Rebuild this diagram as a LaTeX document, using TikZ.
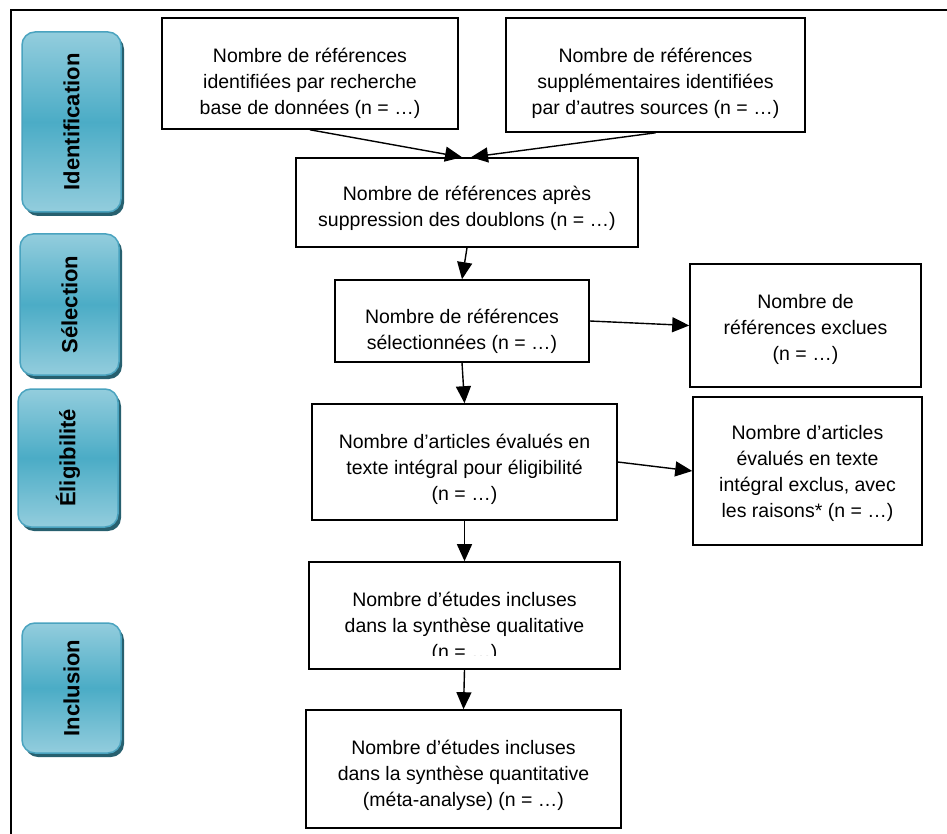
\documentclass[tikz,border=0pt]{standalone}
\usepackage{fontspec}
\setmainfont{Liberation Sans}
\usetikzlibrary{positioning,shadows,arrows.meta}

\definecolor{phaselight}{HTML}{93CDDD}
\definecolor{phasemid}{HTML}{4BACC6}
\definecolor{phaseline}{HTML}{4AA3BF}
\definecolor{phaseshadow}{HTML}{27606F}

\tikzset{
  phase/.style={rounded corners=13pt, draw=phaseline, line width=1.5pt,
    top color=phaselight, bottom color=phaselight, middle color=phasemid,
    drop shadow={shadow xshift=3pt, shadow yshift=-4pt, fill=phaseshadow, opacity=1},
    minimum width=99pt, inner sep=0pt, font=\fontsize{22}{24}\selectfont\bfseries},
  box/.style={draw, line width=1.6pt, inner sep=0pt},
  boxtext/.style={align=center, inner sep=0pt,
    font=\fontsize{19.5}{26}\selectfont, execute at begin node=\strut},
  flow/.style={-{Triangle[length=17pt,width=15pt]}, line width=1.4pt},
}

\begin{document}
\begin{tikzpicture}[x=1pt,y=-1pt]
    \useasboundingbox (0,0) rectangle (947,834);
    % outer frame (only left and top edges show)
    \draw[line width=1.8pt] (11,834) -- (11,10) -- (947,10);

    % phases
    \node[phase, minimum height=180pt] (ident) at (71.5,122) {\rotatebox{90}{Identification}};
    \node[phase, minimum height=141pt] (selec) at (69.5,304.5) {\rotatebox{90}{Sélection}};
    \node[phase, minimum width=100pt, minimum height=138pt] (eligi) at (68,458) {\rotatebox{90}{Éligibilité}};
    \node[phase, minimum height=130pt] (inclu) at (71.5,688) {\rotatebox{90}{Inclusion}};

    % boxes
    \node[box, minimum width=296pt, minimum height=111pt] (db) at (310,73.5) {};
    \node[box, minimum width=299pt, minimum height=114pt] (other) at (655.5,75) {};
    \node[box, minimum width=342pt, minimum height=89pt] (dedup) at (467,202.5) {};
    \node[box, minimum width=254pt, minimum height=82pt] (screen) at (462,321) {};
    \node[box, minimum width=231pt, minimum height=123pt] (screenex) at (805.5,325.5) {};
    \node[box, minimum width=305pt, minimum height=116pt] (full) at (464.5,462) {};
    \node[box, minimum width=229pt, minimum height=148pt] (fullex) at (807.5,471) {};
    \node[box, minimum width=311pt, minimum height=107pt] (qual) at (464.5,615.5) {};
    \node[box, minimum width=315pt, minimum height=118pt] (quant) at (463.5,769) {};

    % texts
    \node[boxtext, below=31pt of db.north] (dbT) {Nombre de références\\identifiées par recherche\\base de données (n = …)};
    \node[boxtext, below=31pt of other.north] (otherT) {Nombre de références\\supplémentaires identifiées\\par d’autres sources (n = …)};
    \node[boxtext, below=29pt of dedup.north] (dedupT) {Nombre de références après\\suppression des doublons (n = …)};
    \node[boxtext, below=30pt of screen.north] (screenT) {Nombre de références\\sélectionnées (n = …)};
    \node[boxtext, below=31pt of screenex.north] (screenexT) {Nombre de\\références exclues\\(n = …)};
    \node[boxtext, below=31pt of full.north] (fullT) {Nombre d’articles évalués en\\texte intégral pour éligibilité\\(n = …)};
    \node[boxtext, below=29pt of fullex.north] (fullexT) {Nombre d’articles\\évalués en texte\\intégral exclus, avec\\les raisons* (n = …)};
    \begin{scope}
        \clip (309,562) rectangle (620,655);
        \node[boxtext, below=31pt of qual.north] (qualT) {Nombre d’études incluses\\dans la synthèse qualitative\\(n = …)};
    \end{scope}
    \node[boxtext, below=31pt of quant.north] (quantT) {Nombre d’études incluses\\dans la synthèse quantitative\\(méta-analyse) (n = …)};

    % arrows
    \draw[flow] (db.south) -- ([xshift=-5pt]dedup.north);
    \draw[flow] (other.south) -- ([xshift=4pt]dedup.north);
    \draw[flow] (dedup.south) -- (screen.north);
    \draw[flow] (screen.east) -- (screenex.west);
    \draw[flow] (screen.south) -- (full.north);
    \draw[flow] (full.east) -- (fullex.west);
    \draw[flow] (full.south) -- (qual.north);
    \draw[flow] (qual.south) -- (quant.north);
\end{tikzpicture}
\end{document}
